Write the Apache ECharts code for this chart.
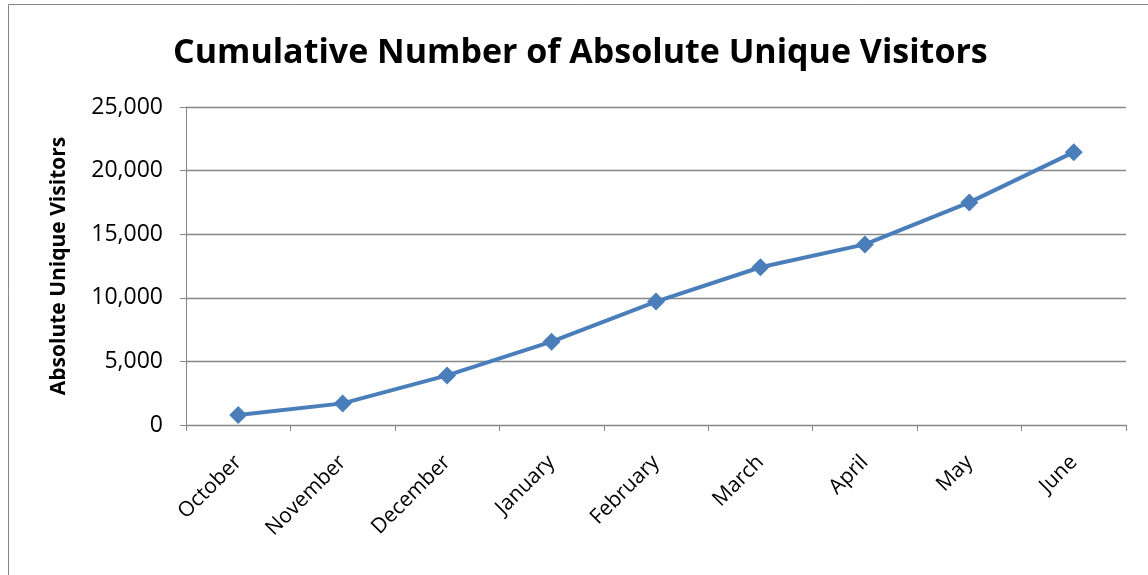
<!DOCTYPE html>
<html>
<head>
<meta charset="utf-8">
<script src="https://cdn.jsdelivr.net/npm/echarts@6/dist/echarts.min.js"></script>
<style>
  html, body { margin: 0; padding: 0; background: #fff; }
  #chart { width: 1148px; height: 575px; }
</style>
</head>
<body>
<div id="chart"></div>
<script>
const months = ["October", "November", "December", "January", "February", "March", "April", "May", "June"];
const visitors = [780, 1700, 3900, 6550, 9700, 12400, 14200, 17500, 21450];
const yTicks = [0, 5000, 10000, 15000, 20000, 25000];

const titleText = "Cumulative Number of Absolute Unique Visitors";

// fit the title to the width it has in the original (Calibri is not installed)
function fitFont(text, weight, family, targetWidth) {
  const ctx = document.createElement("canvas").getContext("2d");
  ctx.font = weight + " 100px " + family;
  return Math.round(100 * targetWidth / ctx.measureText(text).width * 10) / 10;
}
const titleSize = fitFont(titleText, "bold", "'Open Sans'", 814);

const grey = "#868686";
const chart = echarts.init(document.getElementById("chart"));

chart.setOption({
  animation: false,
  title: {
    text: titleText,
    left: 168,
    top: 31,
    textStyle: { fontFamily: "Open Sans", fontWeight: "bold", fontSize: titleSize, color: "#000" }
  },
  graphic: [
    {
      type: "rect",
      shape: { x: 8.5, y: 4.5, width: 2000, height: 2000 },
      style: { fill: "none", stroke: grey, lineWidth: 1 },
      silent: true
    }
  ],
  grid: { left: 186, right: 22, top: 107, bottom: 150 },
  xAxis: {
    type: "category",
    data: months,
    boundaryGap: true,
    axisLine: { lineStyle: { color: grey, width: 1 } },
    axisTick: { show: true, length: 6, lineStyle: { color: grey } },
    axisLabel: {
      rotate: 45,
      margin: 34,
      fontFamily: "Open Sans",
      fontSize: 21,
      color: "#000"
    }
  },
  yAxis: {
    type: "value",
    min: yTicks[0],
    max: yTicks[yTicks.length - 1],
    interval: yTicks[1] - yTicks[0],
    name: "Absolute Unique Visitors",
    nameLocation: "middle",
    nameGap: 116,
    nameTextStyle: { fontFamily: "Open Sans", fontWeight: "bold", fontSize: 21, color: "#000" },
    axisLine: { show: true, lineStyle: { color: grey, width: 1 } },
    axisTick: { show: true, length: 6, lineStyle: { color: grey } },
    splitLine: { lineStyle: { color: grey, width: 1.3 } },
    axisLabel: {
      margin: 23,
      fontFamily: "Open Sans",
      fontSize: 23,
      color: "#000",
      formatter: v => v.toLocaleString("en-US")
    }
  },
  series: [
    {
      type: "line",
      data: visitors,
      symbol: "diamond",
      symbolSize: 18,
      lineStyle: { color: "#4a7ebb", width: 4 },
      itemStyle: { color: "#4a7ebb" }
    }
  ]
});
</script>
</body>
</html>
